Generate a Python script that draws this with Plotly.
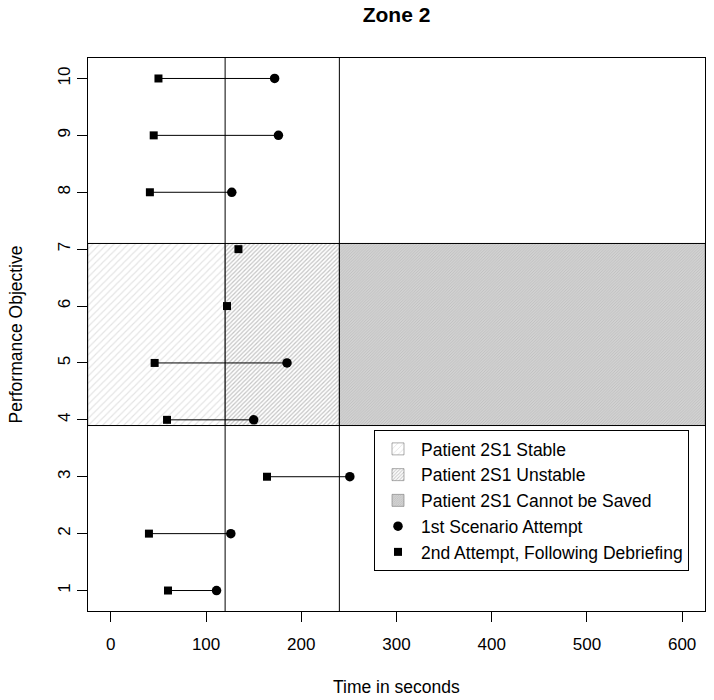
import plotly.graph_objects as go

# ---- data ----
objectives = [1, 2, 3, 4, 5, 6, 7, 8, 9, 10]
first_attempt = [111, 126, 251, 150, 185, None, None, 127, 176, 172]   # circles
second_attempt = [60, 40, 164, 59, 46, 122, 134, 41, 45, 50]           # squares

time_thresholds = [120, 240]          # vertical reference lines
band_limits = [3.9, 7.1]              # objective band (horizontal lines)
region_names = ["Patient 2S1 Stable", "Patient 2S1 Unstable", "Patient 2S1 Cannot be Saved"]
x_ticks = [0, 100, 200, 300, 400, 500, 600]
y_ticks = objectives

# ---- layout constants ----
XLIM = [-24, 624]
YLIM = [0.64, 10.36]
FONT = "Liberation Sans, Arial, sans-serif"

fig = go.Figure()

# shaded regions as horizontal bars spanning the band
region_edges = [XLIM[0], time_thresholds[0], time_thresholds[1], XLIM[1]]
region_styles = [
    dict(color="white", pattern=dict(shape="/", fgcolor="#c8c8c8", bgcolor="white", size=5, solidity=0.22)),
    dict(color="white", pattern=dict(shape="/", fgcolor="#8a8a8a", bgcolor="white", size=3, solidity=0.4)),
    dict(color="#d4d4d4", pattern=dict(shape="/", fgcolor="#a6a6a6", bgcolor="#d8d8d8", size=2, solidity=0.5)),
]
band_mid = (band_limits[0] + band_limits[1]) / 2
band_h = band_limits[1] - band_limits[0]
for i, name in enumerate(region_names):
    st = region_styles[i]
    fig.add_trace(go.Bar(
        orientation="h",
        y=[band_mid], x=[region_edges[i + 1] - region_edges[i]], base=[region_edges[i]],
        width=[band_h], name=name,
        marker=dict(color=st["color"], pattern=st["pattern"], line=dict(color="#777777", width=0.6)),
        hoverinfo="skip",
    ))

# reference lines (drawn as traces so markers sit on top)
for t in time_thresholds:
    fig.add_trace(go.Scatter(x=[t, t], y=YLIM, mode="lines", line=dict(color="black", width=1),
                             showlegend=False, hoverinfo="skip"))
for b in band_limits:
    fig.add_trace(go.Scatter(x=XLIM, y=[b, b], mode="lines", line=dict(color="black", width=1),
                             showlegend=False, hoverinfo="skip"))

# connecting segments
seg_x, seg_y = [], []
for o, a, b in zip(objectives, first_attempt, second_attempt):
    if a is not None and b is not None:
        seg_x += [b, a, None]
        seg_y += [o, o, None]
fig.add_trace(go.Scatter(x=seg_x, y=seg_y, mode="lines", line=dict(color="black", width=1),
                         showlegend=False, hoverinfo="skip"))

fig.add_trace(go.Scatter(x=first_attempt, y=objectives, mode="markers", name="1st Scenario Attempt",
                         marker=dict(symbol="circle", size=9.5, color="black")))
fig.add_trace(go.Scatter(x=second_attempt, y=objectives, mode="markers", name="2nd Attempt, Following Debriefing",
                         marker=dict(symbol="square", size=8, color="black")))

axis_common = dict(showline=True, mirror=True, linecolor="black", linewidth=1, showgrid=False,
                   zeroline=False, ticks="outside", ticklen=10, tickcolor="black", tickwidth=1,
                   tickfont=dict(family=FONT, size=17, color="black"))

fig.update_layout(
    width=714, height=700,
    margin=dict(l=88, r=9, t=58, b=89),
    paper_bgcolor="white", plot_bgcolor="white",
    barmode="overlay",
    font=dict(family=FONT, color="black"),
    title=dict(text="<b>Zone 2</b>", x=0.5, xref="paper", xanchor="center",
               y=1 - 15 / 700, yanchor="middle", font=dict(family=FONT, size=21, color="black")),
    xaxis=dict(range=XLIM, tickvals=x_ticks, ticklabelstandoff=8, **axis_common),
    yaxis=dict(range=YLIM, tickvals=y_ticks, tickangle=-90, **axis_common),
    legend=dict(x=(374 - 88) / 617, y=(611 - 430) / 553, xanchor="left", yanchor="top", bgcolor="white",
                bordercolor="black", borderwidth=1, font=dict(family=FONT, size=17.5, color="black"),
                traceorder="normal", itemwidth=36),
    annotations=[
        dict(text="Time in seconds", xref="paper", yref="paper", x=0.5, y=(611 - 687) / 553,
             xanchor="center", yanchor="middle", showarrow=False, font=dict(family=FONT, size=17.5)),
        dict(text="Performance Objective", xref="paper", yref="paper", x=(15 - 88) / 617, y=0.5,
             textangle=-90, xanchor="center", yanchor="middle", showarrow=False,
             font=dict(family=FONT, size=17.5)),
    ],
)

fig.write_html("out.html", config={"displayModeBar": False},
               post_script="document.body.style.margin='0';")
